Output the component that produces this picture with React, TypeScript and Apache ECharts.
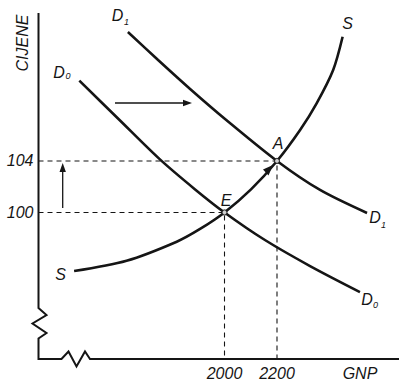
import React, { useEffect, useRef } from "react";
import * as echarts from "echarts";

// Axis ranges (GNP on x, price "CIJENE" on y)
const xMin = 1291.4;
const xMax = 2668.6;
const yMin = 88.62;
const yMax = 115.49;

const xTickValues = [2000, 2200];
const yTickValues = [100, 104];

// Curves: [GNP, price]
const demandD0: number[][] = [
  [1447, 110.24], [1602, 107.14], [1754, 104.12], [1888, 101.79],
  [2000, 100], [2154, 97.86], [2326, 95.84], [2516, 93.82],
];
const demandD1: number[][] = [
  [1632, 114.02], [1747, 111.84], [1869, 109.59], [2002, 107.26],
  [2200, 104], [2364, 101.75], [2543, 99.96],
];
const supplyS: number[][] = [
  [1427, 95.45], [1627, 96.25], [1818, 97.73], [1907, 98.72],
  [2000, 100], [2101, 101.79], [2200, 104], [2288, 106.41],
  [2351, 108.48], [2414, 111.07], [2450, 113.65],
];

const pointE = [2000, 100];
const pointA = [2200, 104];

const FONT = "'Liberation Sans', Arial, sans-serif";
const INK = "#151515";

function txt(x: number, y: number, text: string, size = 16, extra: any = {}) {
  return {
    type: "text",
    x,
    y,
    ...extra,
    style: {
      text,
      fontFamily: FONT,
      fontStyle: "italic",
      fontSize: size,
      fill: INK,
      align: "center",
      verticalAlign: "middle",
    },
    z: 120,
  };
}

export default function App() {
  const ref = useRef<HTMLDivElement>(null);

  useEffect(() => {
    if (!ref.current) return;
    const chart = echarts.init(ref.current, null, { renderer: "svg" });

    const dashed = { color: INK, width: 1.1, type: [5, 4] as any };
    const curve = { color: INK, width: 2.6 };

    const option: any = {
      animation: false,
      backgroundColor: "#fff",
      grid: {
        left: 38.5,
        top: 13,
        width: 361.5,
        height: 346,
        containLabel: false,
        outerBoundsMode: "none",
      },
      xAxis: {
        type: "value",
        min: xMin,
        max: xMax,
        axisLine: { show: false },
        axisTick: { show: false },
        splitLine: { show: false },
        axisLabel: {
          customValues: xTickValues,
          fontFamily: FONT,
          fontStyle: "italic",
          fontSize: 16,
          color: INK,
          margin: 6,
          formatter: (v: number) => String(v),
        },
      },
      yAxis: {
        type: "value",
        min: yMin,
        max: yMax,
        axisLine: { show: false },
        axisTick: { show: false },
        splitLine: { show: false },
        axisLabel: {
          customValues: yTickValues,
          fontFamily: FONT,
          fontStyle: "italic",
          fontSize: 16,
          color: INK,
          margin: 5,
          formatter: (v: number) => String(v),
        },
      },
      series: [
        {
          type: "line",
          data: [[xMin, pointA[1]], pointA, [pointA[0], yMin]],
          symbol: "none",
          lineStyle: dashed,
          z: 1,
        },
        {
          type: "line",
          data: [[xMin, pointE[1]], pointE, [pointE[0], yMin]],
          symbol: "none",
          lineStyle: dashed,
          z: 1,
        },
        { type: "line", data: demandD0, smooth: 0.3, symbol: "none", lineStyle: curve, z: 2 },
        { type: "line", data: demandD1, smooth: 0.3, symbol: "none", lineStyle: curve, z: 2 },
        { type: "line", data: supplyS, smooth: 0.3, symbol: "none", lineStyle: curve, z: 2 },
        {
          type: "scatter",
          data: [pointE, pointA],
          symbol: "circle",
          symbolSize: 5,
          itemStyle: { color: "#fff", borderColor: INK, borderWidth: 1.2 },
          z: 5,
        },
      ],
      graphic: [
        {
          type: "polyline",
          shape: {
            points: [
              [38.5, 13], [38.5, 308], [46.5, 315], [32.5, 323.5], [46.5, 333],
              [38.5, 338.5], [38.5, 359], [61.5, 359], [68.5, 351.5], [76.5, 366.5],
              [85, 351.5], [90, 359], [399, 359],
            ],
          },
          style: { stroke: INK, lineWidth: 2, fill: null },
          z: 110,
        },
        // horizontal shift arrow
        {
          type: "line",
          shape: { x1: 115, y1: 103, x2: 185, y2: 103 },
          style: { stroke: INK, lineWidth: 1.3 },
          z: 110,
        },
        {
          type: "polygon",
          shape: { points: [[192, 103], [183, 99.8], [183, 106.2]] },
          style: { fill: INK },
          z: 110,
        },
        // vertical price arrow
        {
          type: "line",
          shape: { x1: 62.7, y1: 208, x2: 62.7, y2: 170 },
          style: { stroke: INK, lineWidth: 1.3 },
          z: 110,
        },
        {
          type: "polygon",
          shape: { points: [[62.7, 163], [59.5, 172], [65.9, 172]] },
          style: { fill: INK },
          z: 110,
        },
        // arrowhead along S toward A
        {
          type: "polygon",
          shape: { points: [[273, 165], [263, 169.5], [268.5, 175.5]] },
          style: { fill: INK },
          z: 110,
        },
        txt(22, 43, "CIJENE", 16, { rotation: Math.PI / 2 }),
        txt(360, 373, "GNP", 16),
        txt(117.5, 15, "D", 16),
        txt(126.5, 21.5, "1", 9),
        txt(59, 72, "D", 16),
        txt(68, 75.5, "0", 9),
        txt(375, 217.5, "D", 16),
        txt(383.5, 224.5, "1", 9),
        txt(367, 299, "D", 16),
        txt(375.5, 304.5, "0", 9),
        txt(347.5, 23, "S", 16),
        txt(60.5, 274, "S", 16),
        txt(226, 200, "E", 16),
        txt(278, 143.5, "A", 16),
      ],
    };

    chart.setOption(option);
    return () => chart.dispose();
  }, []);

  return (
    <div
      ref={ref}
      style={{ position: "absolute", left: 0, top: 0, width: 401, height: 382, background: "#fff" }}
    />
  );
}
